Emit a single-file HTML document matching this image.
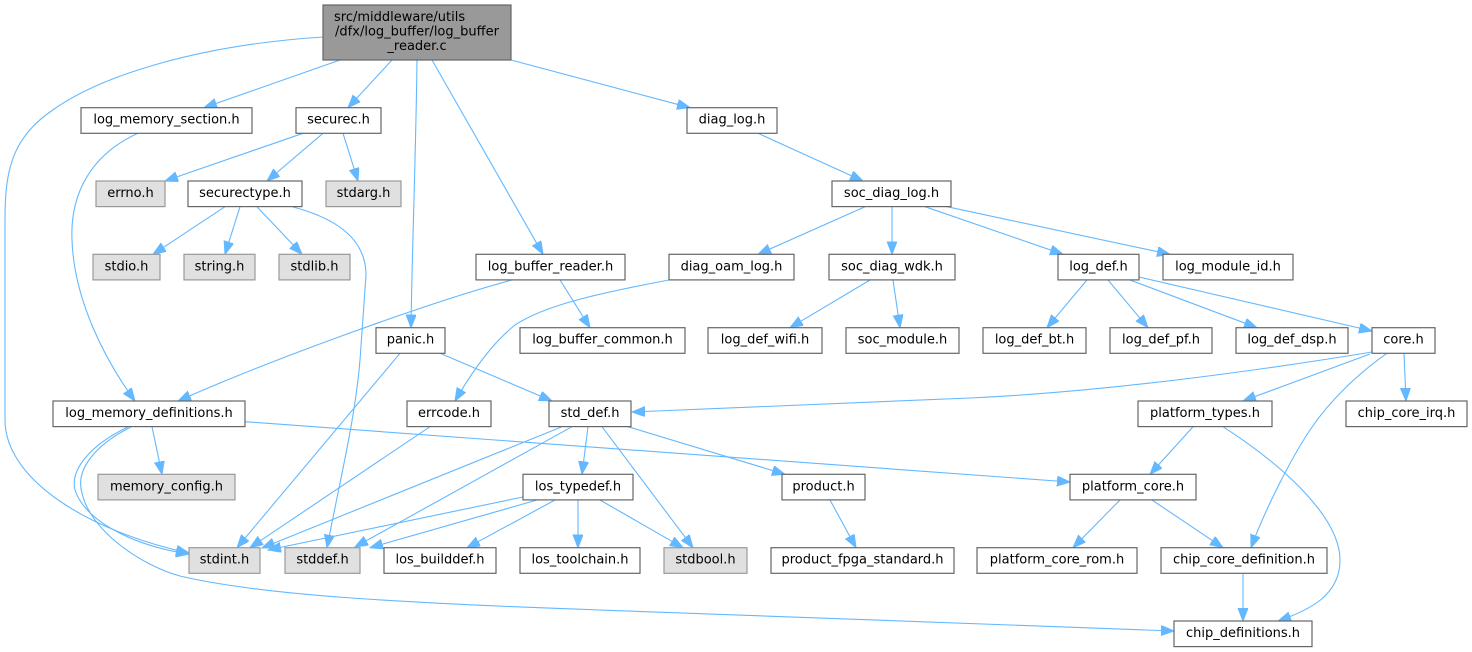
<!DOCTYPE html>
<html><head><meta charset="utf-8"><style>
html,body{margin:0;padding:0;background:#fff;}
svg{display:block;}
text{font-family:"DejaVu Sans","Liberation Sans",sans-serif;font-size:13px;fill:#000;text-anchor:middle;}
.n{fill:#fff;stroke:#666;stroke-width:1.2;}
.g{fill:#e0e0e0;stroke:#999;stroke-width:1.2;}
.e{fill:none;stroke:#63b8ff;stroke-width:1.1;marker-end:url(#a);}
</style></head><body>
<svg width="1472" height="652" viewBox="0 0 1472 652" xmlns="http://www.w3.org/2000/svg">
<defs><marker id="a" markerUnits="userSpaceOnUse" markerWidth="14" markerHeight="11" refX="13" refY="5" orient="auto"><path d="M0,0 L13,5 L0,10 z" fill="#63b8ff" stroke="#63b8ff" stroke-width="1"/></marker></defs>
<rect width="1472" height="652" fill="#fff"/>
<!-- edges -->
<path class="e" d="M340,60 L204,107.7"/>
<path class="e" d="M392,60 L348,107.7"/>
<path class="e" d="M417,60 C416,150 412,250 411,327.7"/>
<path class="e" d="M432,60 L543,254.3"/>
<path class="e" d="M511,60 L690,107.7"/>
<path class="e" d="M323,37 C200,45 100,75 50,112 C10,140 5,175 5,220 L5,420 C5,480 90,532 189,553"/>
<path class="e" d="M303,133.3 L165,181"/>
<path class="e" d="M323,133.3 L267,181"/>
<path class="e" d="M343,133.3 L358,181"/>
<path class="e" d="M138,133.3 C90,155 70,195 72,240 C74,300 105,360 135,401"/>
<path class="e" d="M225,206.7 L153,254.3"/>
<path class="e" d="M240,206.7 L225,254.3"/>
<path class="e" d="M257,206.7 L302,254.3"/>
<path class="e" d="M293,207 C335,218 366,238 366,275 L360,360 C355,420 340,480 327,547.7"/>
<path class="e" d="M758,133.3 L863,181"/>
<path class="e" d="M865,206.7 L758,254.3"/>
<path class="e" d="M892,206.7 L892,254.3"/>
<path class="e" d="M925,206.7 L1063,254.3"/>
<path class="e" d="M947,206.7 L1170,254.3"/>
<path class="e" d="M512,280 C430,302 270,360 178,401"/>
<path class="e" d="M560,280 L590,327.7"/>
<path class="e" d="M669,280 C600,293 545,305 515,325 C490,345 470,375 455,401"/>
<path class="e" d="M870,280 L790,327.7"/>
<path class="e" d="M893,280 L900,327.7"/>
<path class="e" d="M1087,280 L1047,327.7"/>
<path class="e" d="M1108,280 L1148,327.7"/>
<path class="e" d="M1130,280 L1257,327.7"/>
<path class="e" d="M1139,277 L1372,331"/>
<path class="e" d="M1372,352 C1250,372 1100,392 970,398 C820,404 700,410 632,412"/>
<path class="e" d="M1370,354 L1243,401"/>
<path class="e" d="M1404,353.3 L1406,401"/>
<path class="e" d="M1387,353.3 C1360,372 1330,400 1310,430 C1290,460 1265,510 1251,547.7"/>
<path class="e" d="M1193,426.7 L1150,474.3"/>
<path class="e" d="M1223,426.7 C1290,470 1340,520 1340,560 C1340,595 1310,610 1278,621"/>
<path class="e" d="M1120,500 L1073,547.7"/>
<path class="e" d="M1152,500 L1223,547.7"/>
<path class="e" d="M1243,573.3 L1243,621"/>
<path class="e" d="M152,426.7 L162,474.3"/>
<path class="e" d="M128,427 C90,445 70,470 75,490 C85,520 130,545 189,554"/>
<path class="e" d="M131,427 C95,445 75,470 82,493 C90,530 140,565 180,576 C260,595 400,603 600,610 C800,617 1000,625 1174,631"/>
<path class="e" d="M245,421.7 L1070,482"/>
<path class="e" d="M400,353.3 L237,547.7"/>
<path class="e" d="M440,353.3 L552,401"/>
<path class="e" d="M430,426.7 L250,547.7"/>
<path class="e" d="M562,426.7 L262,548"/>
<path class="e" d="M572,426.7 L355,547"/>
<path class="e" d="M588,426.7 L582,474.3"/>
<path class="e" d="M602,426.7 L693,547.7"/>
<path class="e" d="M628,426.7 L785,474.3"/>
<path class="e" d="M523,497 L268,550"/>
<path class="e" d="M537,500 L370,547.7"/>
<path class="e" d="M555,500 L467,547.7"/>
<path class="e" d="M578,500 L578,547.7"/>
<path class="e" d="M600,500 L683,547.7"/>
<path class="e" d="M830,500 L856,547.7"/>
<!-- nodes -->
<rect x="323" y="5" width="188" height="55" fill="#999" stroke="#666" stroke-width="1.2"/>
<text x="334" y="21" style="text-anchor:start">src/middleware/utils</text>
<text x="417" y="35.5">/dfx/log_buffer/log_buffer</text>
<text x="417" y="50">_reader.c</text>

<rect class="n" x="81" y="107.7" width="171" height="25.6"/><text x="166.5" y="123.7">log_memory_section.h</text>
<rect class="n" x="296" y="107.7" width="85" height="25.6"/><text x="338.5" y="123.7">securec.h</text>
<rect class="n" x="687" y="107.7" width="90" height="25.6"/><text x="732" y="123.7">diag_log.h</text>

<rect class="g" x="96" y="181" width="69" height="25.6"/><text x="130.5" y="197">errno.h</text>
<rect class="n" x="188" y="181" width="114" height="25.6"/><text x="245" y="197">securectype.h</text>
<rect class="g" x="326" y="181" width="75" height="25.6"/><text x="363.5" y="197">stdarg.h</text>
<rect class="n" x="832" y="181" width="119" height="25.6"/><text x="891.5" y="197">soc_diag_log.h</text>

<rect class="g" x="93" y="254.3" width="67" height="25.6"/><text x="126.5" y="270.3">stdio.h</text>
<rect class="g" x="184" y="254.3" width="71" height="25.6"/><text x="219.5" y="270.3">string.h</text>
<rect class="g" x="279" y="254.3" width="71" height="25.6"/><text x="314.5" y="270.3">stdlib.h</text>
<rect class="n" x="476" y="254.3" width="149" height="25.6"/><text x="550.5" y="270.3">log_buffer_reader.h</text>
<rect class="n" x="669" y="254.3" width="125" height="25.6"/><text x="731.5" y="270.3">diag_oam_log.h</text>
<rect class="n" x="829" y="254.3" width="126" height="25.6"/><text x="892" y="270.3">soc_diag_wdk.h</text>
<rect class="n" x="1058" y="254.3" width="81" height="25.6"/><text x="1098.5" y="270.3">log_def.h</text>
<rect class="n" x="1163" y="254.3" width="130" height="25.6"/><text x="1228" y="270.3">log_module_id.h</text>

<rect class="n" x="376" y="327.7" width="69" height="25.6"/><text x="410.5" y="343.7">panic.h</text>
<rect class="n" x="520" y="327.7" width="165" height="25.6"/><text x="602.5" y="343.7">log_buffer_common.h</text>
<rect class="n" x="708" y="327.7" width="114" height="25.6"/><text x="765" y="343.7">log_def_wifi.h</text>
<rect class="n" x="846" y="327.7" width="113" height="25.6"/><text x="902.5" y="343.7">soc_module.h</text>
<rect class="n" x="983" y="327.7" width="103" height="25.6"/><text x="1034.5" y="343.7">log_def_bt.h</text>
<rect class="n" x="1110" y="327.7" width="102" height="25.6"/><text x="1161" y="343.7">log_def_pf.h</text>
<rect class="n" x="1236" y="327.7" width="112" height="25.6"/><text x="1292" y="343.7">log_def_dsp.h</text>
<rect class="n" x="1372" y="327.7" width="63" height="25.6"/><text x="1403.5" y="343.7">core.h</text>

<rect class="n" x="53" y="401" width="192" height="25.6"/><text x="149" y="417">log_memory_definitions.h</text>
<rect class="n" x="407" y="401" width="84" height="25.6"/><text x="449" y="417">errcode.h</text>
<rect class="n" x="549" y="401" width="82" height="25.6"/><text x="590" y="417">std_def.h</text>
<rect class="n" x="1138" y="401" width="134" height="25.6"/><text x="1205" y="417">platform_types.h</text>
<rect class="n" x="1346" y="401" width="121" height="25.6"/><text x="1406.5" y="417">chip_core_irq.h</text>

<rect class="g" x="98" y="474.3" width="137" height="25.6"/><text x="166.5" y="490.3">memory_config.h</text>
<rect class="n" x="523" y="474.3" width="110" height="25.6"/><text x="578" y="490.3">los_typedef.h</text>
<rect class="n" x="782" y="474.3" width="83" height="25.6"/><text x="823.5" y="490.3">product.h</text>
<rect class="n" x="1070" y="474.3" width="126" height="25.6"/><text x="1133" y="490.3">platform_core.h</text>

<rect class="g" x="189" y="547.7" width="71" height="25.6"/><text x="224.5" y="563.7">stdint.h</text>
<rect class="g" x="285" y="547.7" width="75" height="25.6"/><text x="322.5" y="563.7">stddef.h</text>
<rect class="n" x="384" y="547.7" width="112" height="25.6"/><text x="440" y="563.7">los_builddef.h</text>
<rect class="n" x="520" y="547.7" width="120" height="25.6"/><text x="580" y="563.7">los_toolchain.h</text>
<rect class="g" x="664" y="547.7" width="83" height="25.6"/><text x="705.5" y="563.7">stdbool.h</text>
<rect class="n" x="771" y="547.7" width="183" height="25.6"/><text x="862.5" y="563.7">product_fpga_standard.h</text>
<rect class="n" x="977" y="547.7" width="160" height="25.6"/><text x="1057" y="563.7">platform_core_rom.h</text>
<rect class="n" x="1161" y="547.7" width="166" height="25.6"/><text x="1244" y="563.7">chip_core_definition.h</text>

<rect class="n" x="1174" y="621" width="138" height="25.6"/><text x="1243" y="637">chip_definitions.h</text>
</svg>
</body></html>
